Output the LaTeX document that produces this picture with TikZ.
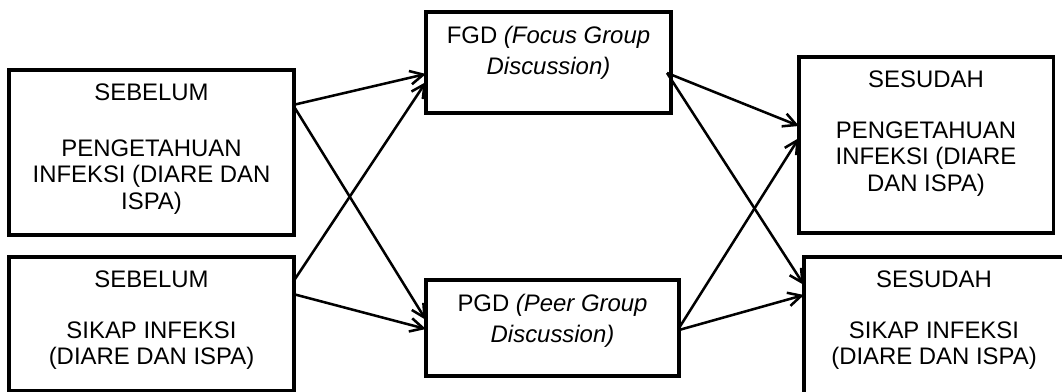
\documentclass[tikz,border=0pt]{standalone}
\usepackage{fontspec}
\setmainfont{Liberation Sans}
\usetikzlibrary{positioning,calc,arrows.meta}
\begin{document}
\begin{tikzpicture}[x=0.025cm,y=-0.025cm,
  block/.style={rectangle,draw,line width=2.2pt,inner sep=0pt,outer sep=0pt},
  isi/.style={align=center,inner sep=0pt,font=\fontsize{17}{18.85}\selectfont},
  isitengah/.style={align=center,inner sep=0pt,font=\fontsize{17}{21.8}\selectfont},
  panah/.style={-{Straight Barb[length=0.33cm,width=0.34cm]},line width=1.8pt}]
\def\turun{0.35cm}
\useasboundingbox (0,0) rectangle (1062,392);
\clip (0,0) rectangle (1062,392);
  %\draw[help lines] (0,0) grid[step=50] (1062,392);
% kotak sebelum
\node[block,minimum width=7.125cm,minimum height=4.125cm] (preTahu) at (151.5,152.5) {};
\node[block,minimum width=7.125cm,minimum height=3.35cm] (preSikap) at (151.5,324) {};
% kotak perlakuan
\node[block,minimum width=6.125cm,minimum height=2.525cm] (fgd) at (548.5,62.5) {};
\node[block,minimum width=6.325cm,minimum height=2.4cm] (pgd) at (552.5,328) {};
% kotak sesudah
\node[block,minimum width=6.35cm,minimum height=4.4cm] (postTahu) at (926,145) {};
\node[block,minimum width=6.5cm,minimum height=3.575cm] (postSikap) at (934,328.5) {};
% isi kotak
\node[isi,below=\turun of preTahu.north] (tPreTahu) {SEBELUM\\[0.72cm]PENGETAHUAN\\INFEKSI (DIARE DAN\\ISPA)};
\node[isi,below=\turun of preSikap.north] (tPreSikap) {SEBELUM\\[0.6cm]SIKAP INFEKSI\\(DIARE DAN ISPA)};
\node[isitengah,below=\turun of fgd.north] (tFgd) {FGD \textit{(Focus Group}\\\textit{Discussion)}};
\node[isitengah,below=\turun of pgd.north] (tPgd) {PGD \textit{(Peer Group}\\\textit{Discussion)}};
\node[isi,below=\turun of postTahu.north] (tPostTahu) {SESUDAH\\[0.6cm]PENGETAHUAN\\INFEKSI (DIARE\\DAN ISPA)};
\node[isi,below=\turun of postSikap.north] (tPostSikap) {SESUDAH\\[0.6cm]SIKAP INFEKSI\\(DIARE DAN ISPA)};
% panah
\draw[panah] ($(preTahu.north east)+(-1,35)$) -- ($(fgd.north west)+(0,62)$);
\draw[panah] ($(preTahu.north east)+(-1,35)$) -- ($(pgd.north west)+(0,40)$);
\draw[panah] ($(preSikap.north east)+(-1,25)$) -- ($(fgd.north west)+(0,70)$);
\draw[panah] ($(preSikap.north east)+(-1,37)$) -- ($(pgd.north west)+(0,49)$);
\draw[panah] ($(fgd.north east)+(-4,61)$) -- ($(postTahu.north west)+(0,69)$);
\draw[panah] ($(fgd.north east)+(-4,61)$) -- ($(postSikap.north west)+(0,28)$);
\draw[panah] ($(pgd.north east)+(0,48)$) -- ($(postTahu.north west)+(0,81)$);
\draw[panah] ($(pgd.north east)+(0,50)$) -- ($(postSikap.north west)+(0,38)$);
\end{tikzpicture}
\end{document}
